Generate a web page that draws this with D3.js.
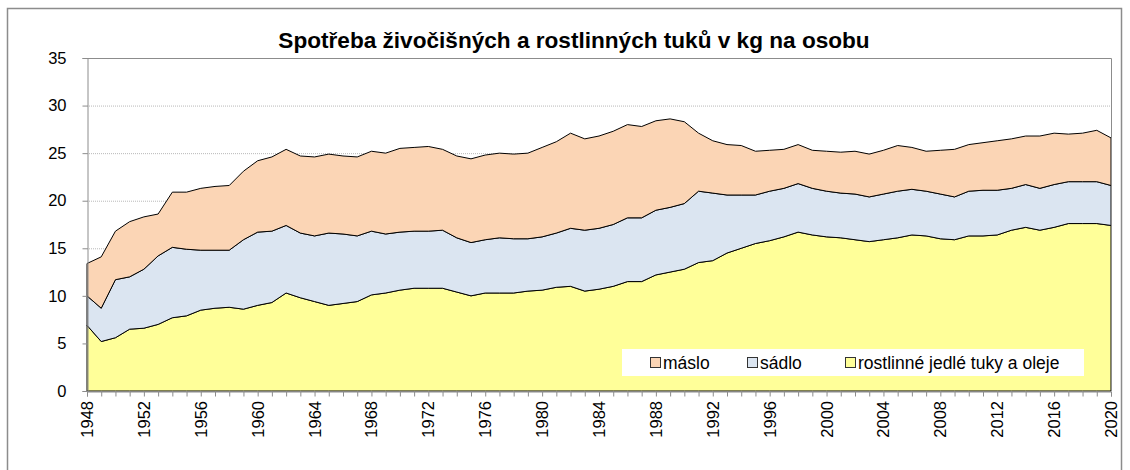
<!DOCTYPE html>
<html>
<head>
<meta charset="utf-8">
<script src="https://cdn.jsdelivr.net/npm/d3@7"></script>
<style>
    body { margin: 0; background: #fff; }
    svg { display: block; font-family: "Liberation Sans", Arial, sans-serif; }
</style>
</head>
<body>
<div id="chart"></div>
<script>
// years 1948 - 2020
const years = [1948,1949,1950,1951,1952,1953,1954,1955,1956,1957,
    1958,1959,1960,1961,1962,1963,1964,1965,1966,1967,
    1968,1969,1970,1971,1972,1973,1974,1975,1976,1977,
    1978,1979,1980,1981,1982,1983,1984,1985,1986,1987,
    1988,1989,1990,1991,1992,1993,1994,1995,1996,1997,
    1998,1999,2000,2001,2002,2003,2004,2005,2006,2007,
    2008,2009,2010,2011,2012,2013,2014,2015,2016,2017,
    2018,2019,2020];

// kg per person
const rostlinne = [6.9,5.2,5.6,6.5,6.6,7.0,7.7,7.9,8.5,8.7,
    8.8,8.6,9.0,9.3,10.3,9.8,9.4,9.0,9.2,9.4,
    10.1,10.3,10.6,10.8,10.8,10.8,10.4,10.0,10.3,10.3,
    10.3,10.5,10.6,10.9,11.0,10.5,10.7,11.0,11.5,11.5,
    12.2,12.5,12.8,13.5,13.7,14.5,15.0,15.5,15.8,16.2,
    16.7,16.4,16.2,16.1,15.9,15.7,15.9,16.1,16.4,16.3,
    16.0,15.9,16.3,16.3,16.4,16.9,17.2,16.9,17.2,17.6,
    17.6,17.6,17.4];

const sadlo = [3.1,3.5,6.1,5.5,6.2,7.2,7.4,7.0,6.3,6.1,
    6.0,7.3,7.7,7.5,7.1,6.8,6.9,7.6,7.3,6.9,
    6.7,6.2,6.1,6.0,6.0,6.1,5.7,5.6,5.6,5.8,
    5.7,5.5,5.6,5.7,6.1,6.4,6.4,6.5,6.7,6.7,
    6.8,6.8,6.9,7.5,7.1,6.1,5.6,5.1,5.2,5.1,
    5.1,4.9,4.8,4.7,4.8,4.7,4.8,4.9,4.8,4.7,
    4.7,4.5,4.7,4.8,4.7,4.4,4.5,4.4,4.5,4.4,
    4.4,4.4,4.2];

const maslo = [3.4,5.4,5.1,5.8,5.5,4.4,5.8,6.0,6.5,6.7,
    6.8,7.2,7.5,7.8,8.0,8.1,8.3,8.3,8.2,8.3,
    8.4,8.5,8.8,8.8,8.9,8.5,8.6,8.8,8.9,8.9,
    8.9,9.0,9.4,9.6,10.0,9.6,9.7,9.8,9.8,9.6,
    9.4,9.3,8.6,6.1,5.5,5.3,5.2,4.6,4.3,4.1,
    4.1,4.0,4.2,4.3,4.5,4.5,4.6,4.8,4.4,4.2,
    4.6,5.0,4.9,5.0,5.2,5.2,5.1,5.5,5.4,5.0,
    5.1,5.4,5.0];

const seriesNames = ["rostlinné jedlé tuky a oleje", "sádlo", "máslo"];
const legendOrder = ["máslo", "sádlo", "rostlinné jedlé tuky a oleje"];
const yTicks = [0, 5, 10, 15, 20, 25, 30, 35];
const xLabelYears = [1948,1952,1956,1960,1964,1968,1972,1976,1980,1984,1988,1992,1996,2000,2004,2008,2012,2016,2020];
const title = "Spotřeba živočišných a rostlinných tuků v kg na osobu";

const colors = {
    "máslo": "#fbd5b5",
    "sádlo": "#dbe5f1",
    "rostlinné jedlé tuky a oleje": "#ffff99"
};

const W = 1130, H = 470;
const plot = { left: 87, right: 1111, top: 58, bottom: 391 };

const svg = d3.select("#chart").append("svg")
    .attr("width", W)
    .attr("height", H);

// outer chart border
svg.append("rect")
    .attr("x", 7.5).attr("y", 8.5)
    .attr("width", 1114).attr("height", 520)
    .attr("fill", "none")
    .attr("stroke", "#8c8c8c")
    .attr("stroke-width", 1.5);

const x = d3.scaleLinear().domain([1948, 2020]).range([plot.left, plot.right]);
const y = d3.scaleLinear().domain([0, 35]).range([plot.bottom, plot.top]);

// gridlines
svg.append("g")
    .selectAll("line")
    .data(yTicks.filter(d => d > 0 && d < 35))
    .enter().append("line")
    .attr("x1", plot.left).attr("x2", plot.right)
    .attr("y1", d => y(d) + 0.5).attr("y2", d => y(d) + 0.5)
    .attr("stroke", "#b8b8b8")
    .attr("stroke-dasharray", "1,1");

// stacked data
const table = years.map((yr, i) => ({
    year: yr,
    "rostlinné jedlé tuky a oleje": rostlinne[i],
    "sádlo": sadlo[i],
    "máslo": maslo[i]
}));

const series = d3.stack().keys(seriesNames)(table);

const area = d3.area()
    .x(d => x(d.data.year))
    .y0(d => y(d[0]))
    .y1(d => y(d[1]));

svg.append("g")
    .selectAll("path")
    .data(series)
    .enter().append("path")
    .attr("d", area)
    .attr("fill", d => colors[d.key])
    .attr("stroke", "#000")
    .attr("stroke-width", 1)
    .attr("stroke-linejoin", "round");

// plot border (top and right)
svg.append("path")
    .attr("d", `M${plot.left},${plot.top + 0.5}H${plot.right + 0.5}V${plot.bottom}`)
    .attr("fill", "none")
    .attr("stroke", "#8c8c8c");

// y axis
const yAxis = svg.append("g")
    .attr("transform", `translate(${plot.left + 0.5},0)`)
    .call(d3.axisLeft(y).tickValues(yTicks).tickSize(5).tickPadding(16));
yAxis.select(".domain").attr("stroke", "#8c8c8c");
yAxis.selectAll(".tick line").attr("stroke", "#8c8c8c");
yAxis.selectAll("text")
    .attr("fill", "#000")
    .style("font-size", "16.5px")
    .style("font-family", "'Liberation Sans', Arial, sans-serif");

// x axis, a tick every year, label every 4 years
const xAxis = svg.append("g")
    .attr("transform", `translate(0,${plot.bottom + 0.5})`)
    .call(d3.axisBottom(x).tickValues(years).tickSize(5).tickFormat(""));
xAxis.select(".domain").attr("stroke", "#8c8c8c");
xAxis.selectAll(".tick line").attr("stroke", "#8c8c8c");

svg.append("g")
    .selectAll("text")
    .data(xLabelYears)
    .enter().append("text")
    .attr("transform", d => `translate(${x(d) + 6},${plot.bottom + 10}) rotate(-90)`)
    .attr("text-anchor", "end")
    .style("font-size", "16.5px")
    .text(d => d);

// title
svg.append("text")
    .attr("x", 574).attr("y", 48)
    .attr("text-anchor", "middle")
    .style("font-size", "22.6px")
    .style("font-weight", "bold")
    .text(title);

// legend
const legend = svg.append("g").attr("transform", "translate(622,349)");
legend.append("rect")
    .attr("width", 462).attr("height", 27)
    .attr("fill", "#fff");

const legendX = [28, 125, 223];
legendOrder.forEach((key, i) => {
    const g = legend.append("g").attr("transform", `translate(${legendX[i]},0)`);
    g.append("rect")
        .attr("x", 0.5).attr("y", 8.5)
        .attr("width", 10).attr("height", 10)
        .attr("fill", colors[key])
        .attr("stroke", "#333");
    g.append("text")
        .attr("x", 13).attr("y", 20)
        .style("font-size", "17.5px")
        .text(key);
});
</script>
</body>
</html>
